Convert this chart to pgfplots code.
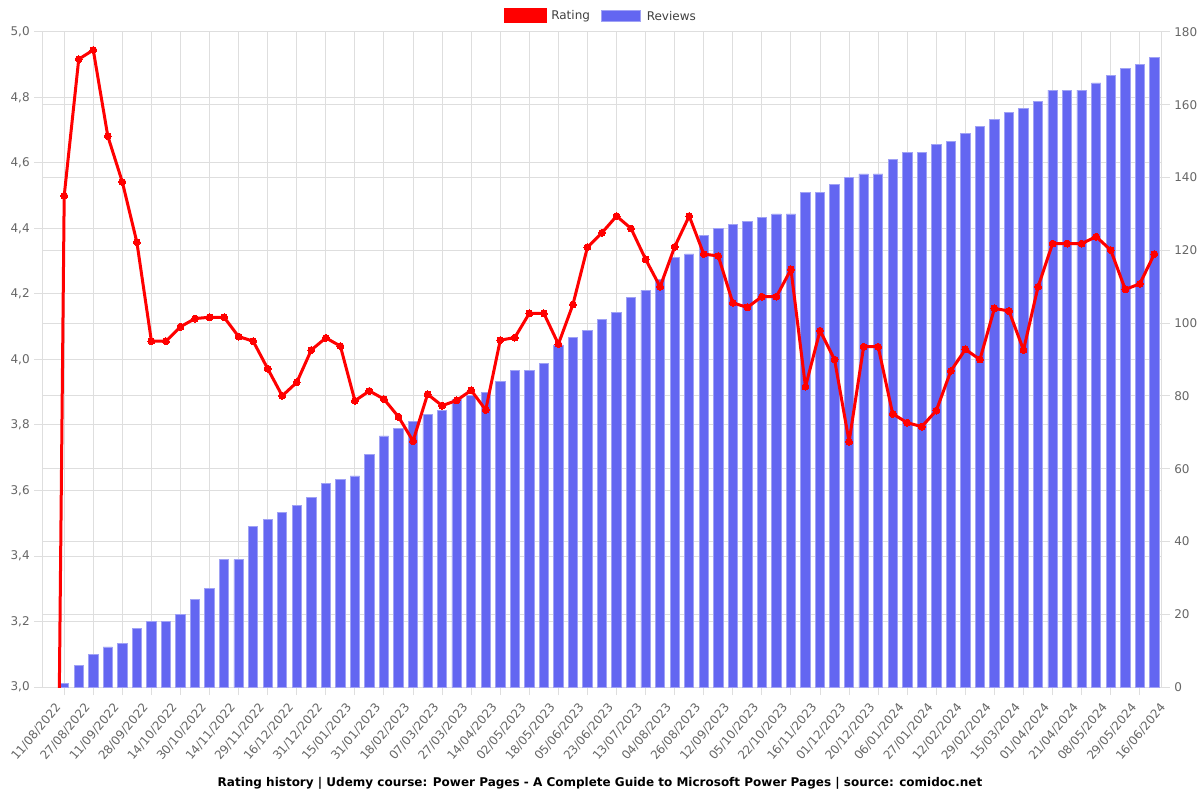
\documentclass[border=0pt]{standalone}
\usepackage{fontspec}
\setmainfont{DejaVu Sans}
\usepackage{pgfplots}
\pgfplotsset{compat=1.18}
\definecolor{barfill}{RGB}{99,102,241}
\definecolor{barline}{RGB}{160,162,245}
\definecolor{gridc}{RGB}{222,222,222}
\definecolor{tickc}{RGB}{102,102,102}

\pgfplotsset{
  set layers,
  base/.style={
    scale only axis, width=839.4pt, height=491.25pt,
    at={(0,0)}, anchor=south west,
    xmin=-0.5, xmax=76.5,
    tick label style={color=tickc, font=\fontsize{9}{11}\selectfont},
    /pgf/number format/assume math mode=true,
    tick align=outside, major tick length=6pt,
    tick style={draw=gridc, line width=0.75pt},
    grid style={draw=gridc, line width=0.75pt},
    axis line style={draw=gridc, line width=0.75pt},
  },
}

\begin{document}
\begin{tikzpicture}
% reviews (right axis, bars) + vertical grid
\begin{axis}[base,
    ymin=0, ymax=180, ytick={0,20,...,180},
    axis y line*=right, axis x line*=bottom,
    ymajorgrids, xmajorgrids,
    xtick={1,3,...,75}, xticklabels={},
]
\addplot[ybar, bar width=7pt, fill=barfill, draw=barline, line width=0.6pt]
coordinates {
(1,1)(2,6)(3,9)(4,11)(5,12)(6,16)(7,18)(8,18)(9,20)(10,24)
(11,27)(12,35)(13,35)(14,44)(15,46)(16,48)(17,50)(18,52)(19,56)(20,57)
(21,58)(22,64)(23,69)(24,71)(25,73)(26,75)(27,76)(28,79)(29,80)(30,81)
(31,84)(32,87)(33,87)(34,89)(35,94)(36,96)(37,98)(38,101)(39,103)(40,107)
(41,109)(42,112)(43,118)(44,119)(45,124)(46,126)(47,127)(48,128)(49,129)(50,130)
(51,130)(52,136)(53,136)(54,138)(55,140)(56,141)(57,141)(58,145)(59,147)(60,147)
(61,149)(62,150)(63,152)(64,154)(65,156)(66,158)(67,159)(68,161)(69,164)(70,164)
(71,164)(72,166)(73,168)(74,170)(75,171)(76,173)
};
\end{axis}
% rating (left axis, line)
\begin{axis}[base,
    ymin=3, ymax=5, ytick={3,3.2,3.4,3.6,3.8,4,4.2,4.4,4.6,4.8,5},
    yticklabel style={/pgf/number format/.cd, fixed, fixed zerofill, precision=1, use comma},
    axis y line*=left, axis x line=none,
    ymajorgrids, xtick=\empty,
]
\addplot[red, line width=2.25pt, line join=round, mark=*, mark size=2.6pt,
    mark options={solid, fill=red, draw=red, line width=0pt}]
coordinates {
(0,0)(1,4.500)(2,4.917)(3,4.945)(4,4.682)(5,4.542)(6,4.358)(7,4.056)(8,4.056)(9,4.100)
(10,4.125)(11,4.129)(12,4.129)(13,4.070)(14,4.056)(15,3.972)(16,3.889)(17,3.930)(18,4.029)(19,4.066)
(20,4.041)(21,3.874)(22,3.904)(23,3.879)(24,3.825)(25,3.751)(26,3.894)(27,3.859)(28,3.875)(29,3.906)
(30,3.846)(31,4.059)(32,4.067)(33,4.141)(34,4.141)(35,4.047)(36,4.168)(37,4.343)(38,4.387)(39,4.438)
(40,4.400)(41,4.306)(42,4.222)(43,4.344)(44,4.438)(45,4.322)(46,4.316)(47,4.173)(48,4.159)(49,4.192)
(50,4.192)(51,4.275)(52,3.917)(53,4.088)(54,4.000)(55,3.749)(56,4.039)(57,4.039)(58,3.834)(59,3.807)
(60,3.795)(61,3.844)(62,3.965)(63,4.031)(64,4.000)(65,4.156)(66,4.148)(67,4.029)(68,4.222)(69,4.354)
(70,4.354)(71,4.354)(72,4.375)(73,4.334)(74,4.214)(75,4.231)(76,4.322)
};
\end{axis}
% date labels, legend and title, in pixel coordinates of the 1200x800 frame
\begin{scope}[x=0.75pt, y=-0.75pt, shift={(-31.8pt,515.25pt)}]
\foreach \lab [count=\i from 0] in {11/08/2022,27/08/2022,11/09/2022,28/09/2022,14/10/2022,30/10/2022,14/11/2022,29/11/2022,16/12/2022,31/12/2022,15/01/2023,31/01/2023,18/02/2023,07/03/2023,27/03/2023,14/04/2023,02/05/2023,18/05/2023,05/06/2023,23/06/2023,13/07/2023,04/08/2023,26/08/2023,12/09/2023,05/10/2023,22/10/2023,16/11/2023,01/12/2023,20/12/2023,06/01/2024,27/01/2024,12/02/2024,29/02/2024,15/03/2024,01/04/2024,21/04/2024,08/05/2024,29/05/2024,16/06/2024}
  \node[rotate=50, anchor=east, inner sep=0pt, text=tickc, font=\fontsize{9}{11}\selectfont]
    at ({42.4+(2*\i+0.5)*14.535+8.9}, 705.3) {\lab};
\fill[red] (504,8.3) rectangle (546.7,23.3);
\node[anchor=west, inner sep=0pt, text=black!75, font=\fontsize{9}{11}\selectfont] at (551,16) {Rating};
\fill[barfill, draw=barline, line width=0.6pt] (601,10) rectangle (640,21.7);
\node[anchor=west, inner sep=0pt, text=black!75, font=\fontsize{9}{11}\selectfont] at (646.5,16) {Reviews};
\node[font=\bfseries\fontsize{9}{11}\selectfont] at (600,783) {Rating history | Udemy course: Power Pages - A Complete Guide to Microsoft Power Pages | source: comidoc.net};
\pgfresetboundingbox
\path[use as bounding box] (0,0) rectangle (1200,800);
\end{scope}
\end{tikzpicture}
\end{document}
